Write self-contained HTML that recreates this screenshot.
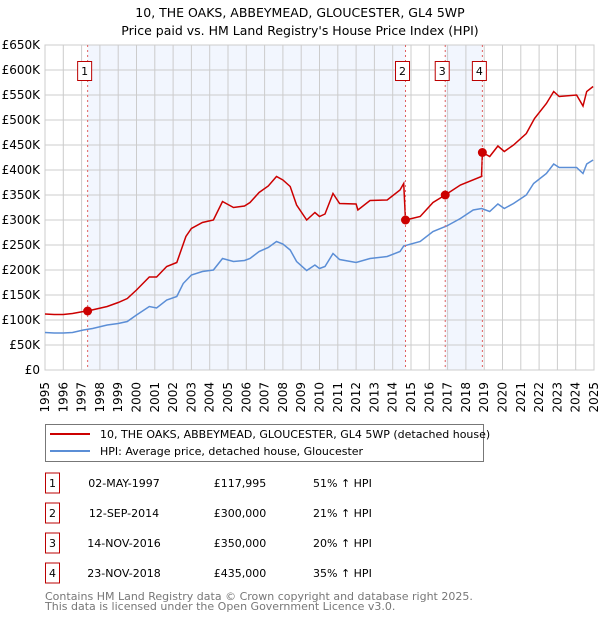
<!DOCTYPE html>
<html><head><meta charset="utf-8"><style>
body{margin:0;background:#fff;font-family:"DejaVu Sans","Liberation Sans",sans-serif}
svg text{font-family:"DejaVu Sans","Liberation Sans",sans-serif}
</style></head><body>
<svg id="chart" width="600" height="620" viewBox="0 0 600 620" xmlns="http://www.w3.org/2000/svg">
<text x="300" y="17" text-anchor="middle" font-size="12.5">10, THE OAKS, ABBEYMEAD, GLOUCESTER, GL4 5WP</text>
<text x="300" y="35" text-anchor="middle" font-size="12.5">Price paid vs. HM Land Registry's House Price Index (HPI)</text>
<g id="shade"></g><g id="grid"></g><g id="axes"></g><g id="series"></g><g id="markers"></g>
<g>
<rect x="45.5" y="424.5" width="438" height="37" fill="#fff" stroke="#777"/>
<line x1="50" y1="434" x2="90" y2="434" stroke="#cc0000" stroke-width="2"/>
<text x="100" y="438" font-size="11">10, THE OAKS, ABBEYMEAD, GLOUCESTER, GL4 5WP (detached house)</text>
<line x1="50" y1="451" x2="90" y2="451" stroke="#5b8ed6" stroke-width="2"/>
<text x="100" y="455" font-size="11">HPI: Average price, detached house, Gloucester</text>
</g>
<g id="table" font-size="11"></g>
<text x="45" y="600" font-size="11" fill="#777">Contains HM Land Registry data © Crown copyright and database right 2025.</text>
<text x="45" y="610" font-size="11" fill="#777">This data is licensed under the Open Government Licence v3.0.</text>
</svg>
<script>
const hpiDates=[1995.0,1995.5,1996.0,1996.5,1997.1,1997.6,1998.4,1999.0,1999.5,2000.0,2000.7,2001.1,2001.65,2002.2,2002.55,2003.0,2003.6,2004.2,2004.7,2005.3,2005.9,2006.2,2006.7,2007.2,2007.65,2008.0,2008.4,2008.75,2009.3,2009.75,2010.0,2010.3,2010.74,2011.1,2012.0,2012.76,2013.7,2014.4,2014.6,2015.5,2016.2,2016.95,2017.7,2018.4,2018.86,2019.3,2019.75,2020.1,2020.6,2021.3,2021.7,2022.4,2022.8,2023.1,2024.05,2024.4,2024.6,2024.95];
const hpiValues=[75,74,74,75,80,83,90,93,97,110,127,124,140,147,173,190,197,200,223,217,219,223,237,245,257,252,240,217,199,210,203,207,233,221,215,223,227,237,248,257,277,288,303,320,323,317,332,323,333,350,373,393,412,405,405,393,412,420];
const redDates=[1995.0,1995.5,1996.0,1996.5,1997.1,1997.33,1998.4,1999.0,1999.5,2000.0,2000.7,2001.1,2001.65,2002.2,2002.7,2003.0,2003.6,2004.2,2004.7,2005.3,2005.9,2006.2,2006.7,2007.2,2007.65,2008.0,2008.4,2008.75,2009.3,2009.75,2010.0,2010.3,2010.74,2011.1,2012.0,2012.1,2012.76,2013.7,2014.4,2014.6,2014.7,2015.5,2016.2,2016.87,2017.7,2018.85,2018.9,2019.3,2019.75,2020.1,2020.6,2021.3,2021.75,2022.4,2022.8,2023.1,2024.05,2024.4,2024.6,2024.95];
const redValues=[112,111,111,113,117,118,127,135,143,160,186,186,207,215,267,283,295,300,337,325,328,335,355,368,387,380,367,330,300,315,307,312,353,333,332,320,339,340,360,373,300,307,335,350,370,387,435,427,448,437,450,473,503,533,557,547,550,528,557,567];
const saleLabels=["1","2","3","4"];
const saleDates=[1997.33,2014.7,2016.87,2018.9];
const salePrices=[117995,300000,350000,435000];
const saleDateText=["02-MAY-1997","12-SEP-2014","14-NOV-2016","23-NOV-2018"];
const salePriceText=["£117,995","£300,000","£350,000","£435,000"];
const saleHpiText=["51% ↑ HPI","21% ↑ HPI","20% ↑ HPI","35% ↑ HPI"];
const yTicks=[0,50,100,150,200,250,300,350,400,450,500,550,600,650];
const yTickLabels=["£0","£50K","£100K","£150K","£200K","£250K","£300K","£350K","£400K","£450K","£500K","£550K","£600K","£650K"];
const xTicks=[1995,1996,1997,1998,1999,2000,2001,2002,2003,2004,2005,2006,2007,2008,2009,2010,2011,2012,2013,2014,2015,2016,2017,2018,2019,2020,2021,2022,2023,2024,2025];
const X0=45,X1=594,Y0=370,Y1=45;
const xs=y=>X0+(y-1995)/(2025-1995)*(X1-X0);
const ys=v=>Y0-v/650*(Y0-Y1);
const NS="http://www.w3.org/2000/svg";
function mk(tag,parent,attrs){const e=document.createElementNS(NS,tag);for(const k in attrs)e.setAttribute(k,attrs[k]);document.getElementById(parent).appendChild(e);return e;}
[[0,1],[2,3]].forEach((p,i)=>{const r=mk('rect','shade',{x:xs(saleDates[p[0]]),y:Y1,width:xs(saleDates[p[1]])-xs(saleDates[p[0]]),height:Y0-Y1,fill:'#f2f6fe'});

});
yTicks.forEach((t,i)=>{const l=mk('line','grid',{x1:X0,x2:X1,y1:ys(t),y2:ys(t),stroke:'#cccccc'});


const tx=mk('text','axes',{x:40,y:ys(t)+4,'text-anchor':'end','font-size':12});tx.textContent=yTickLabels[i];

});
xTicks.forEach(t=>{const l=mk('line','grid',{x1:xs(t),x2:xs(t),y1:Y1,y2:Y0,stroke:'#cccccc'});


const px=xs(t)+4, py=382;
const tx=mk('text','axes',{x:px,y:py,'text-anchor':'end','font-size':12,transform:'rotate(-90 '+px+' '+py+')'});tx.textContent=String(t);

});
const fr=mk('rect','axes',{x:X0,y:Y1,width:X1-X0,height:Y0-Y1,fill:'none',stroke:'#cccccc'});


function path(d,v){return d.map((x,i)=>(i?'L':'M')+xs(x).toFixed(1)+','+ys(v[i]).toFixed(1)).join('');}
const hp=mk('path','series',{d:path(hpiDates,hpiValues),fill:'none',stroke:'#5b8ed6','stroke-width':1.5});


const rp=mk('path','series',{d:path(redDates,redValues),fill:'none',stroke:'#cc0000','stroke-width':1.5});


saleDates.forEach((d,i)=>{const x=xs(d);
const vl=mk('line','markers',{x1:x,x2:x,y1:Y1,y2:Y0,stroke:'#e06060','stroke-dasharray':'2,3'});


const pt=mk('circle','markers',{cx:x,cy:ys(salePrices[i]/1000),r:4.5,fill:'#cc0000'});


const b=mk('rect','markers',{x:x-10,y:61.5,width:14,height:19,fill:'#fff',stroke:'#bb0000'});


const t=mk('text','markers',{x:x-3,y:75,'text-anchor':'middle','font-size':11});t.textContent=saleLabels[i];

});
saleLabels.forEach((s,i)=>{const cy=483+i*30;
const b=mk('rect','table',{x:45.5,y:cy-10,width:14,height:20,fill:'#fff',stroke:'#bb0000'});


const cols=[[52.5,s,'middle'],[124,saleDateText[i],'middle'],[240,salePriceText[i],'middle'],[313,saleHpiText[i],'start']];
cols.forEach(c=>{const t=mk('text','table',{x:c[0],y:cy+4,'text-anchor':c[2],'font-size':11});t.textContent=c[1];

});});
</script>
</body></html>
